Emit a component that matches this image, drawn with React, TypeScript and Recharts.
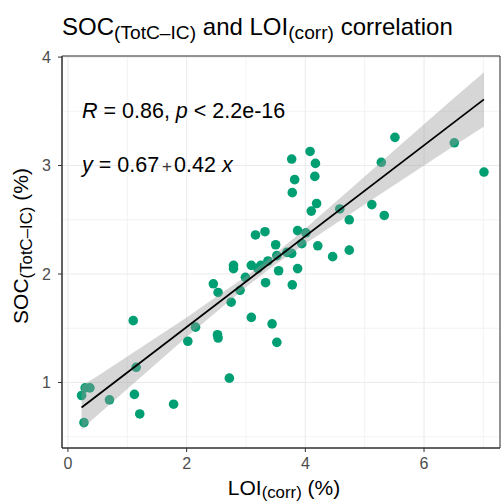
import { ComposedChart, Scatter, Area, Line, XAxis, YAxis, CartesianGrid, ReferenceLine, ReferenceArea } from 'recharts';

// LOI(corr) (%) vs SOC(TotC-IC) (%)
const loi = [
  0.23, 0.29, 0.37, 0.27, 0.70, 1.10, 1.15, 1.12, 1.21, 1.78,
  2.02, 2.15, 2.52, 2.53, 2.72, 2.45, 2.53, 2.75, 2.79, 2.79,
  2.90, 2.99, 3.09, 3.09, 3.20, 3.25, 3.33, 3.37, 3.16, 3.32,
  3.44, 3.52, 3.55, 3.52, 3.50, 3.69, 3.77, 3.78, 3.87, 3.87,
  4.01, 3.94, 4.21, 4.46, 4.74, 4.74, 4.58, 4.10, 4.19, 3.78,
  3.82, 3.77, 4.08, 4.17, 4.16, 5.12, 5.33, 5.28, 5.51, 6.51, 7.01,
];
const soc = [
  0.88, 0.95, 0.95, 0.63, 0.84, 1.57, 1.14, 0.89, 0.71, 0.80,
  1.38, 1.51, 1.44, 1.41, 1.04, 1.91, 1.83, 1.74, 2.08, 2.05,
  1.85, 1.97, 2.08, 1.60, 2.05, 2.08, 1.92, 2.12, 2.36, 2.39,
  1.54, 1.37, 2.03, 2.17, 2.27, 2.20, 2.19, 1.90, 2.05, 2.40,
  2.38, 2.28, 2.26, 2.16, 2.22, 2.50, 2.60, 2.58, 2.65, 2.75,
  2.87, 3.06, 3.13, 3.02, 2.90, 2.64, 2.54, 3.03, 3.26, 3.21, 2.94,
];

// confidence band edges of the fit
const bandX = [0.23, 0.5, 1, 1.5, 2, 2.5, 3, 3.5, 4, 4.5, 5, 5.5, 6, 6.5, 7.01];
const bandLow = [0.57, 0.70, 0.94, 1.18, 1.42, 1.65, 1.88, 2.09, 2.28, 2.46, 2.64, 2.82, 3.00, 3.18, 3.36];
const bandHigh = [0.97, 1.06, 1.24, 1.42, 1.60, 1.79, 1.98, 2.19, 2.42, 2.66, 2.90, 3.14, 3.38, 3.62, 3.86];

// fitted line y = 0.67 + 0.42 x
const fitX = [0.23, 7.01];
const fitY = [0.77, 3.61];

const xTicks = [0, 2, 4, 6];
const yTicks = [1, 2, 3, 4];
const xMinor = [1, 3, 5, 7];
const yMinor = [0.5, 1.5, 2.5, 3.5];

const points = loi.map((x, i) => ({ x, y: soc[i] }));
const band = bandX.map((x, i) => ({ x, band: [bandLow[i], bandHigh[i]] }));
const fit = fitX.map((x, i) => ({ x, fit: fitY[i] }));

const FONT = '"Liberation Sans", Arial, sans-serif';
const X_DOMAIN: [number, number] = [-0.1, 7.28];
const Y_DOMAIN: [number, number] = [0.396, 4.01];
const MARGIN = { top: 56, right: 2, bottom: 0, left: 0 };
const layer: React.CSSProperties = { position: 'absolute', left: 0, top: 0 };

const Dot = (props: any) => <circle cx={props.cx} cy={props.cy} r={4.8} fill="#009E73" />;

export default function App() {
  return (
    <div style={{ position: 'absolute', left: 0, top: 0, width: 502, height: 502, background: '#fff', fontFamily: FONT }}>
      {/* bottom layer: grid, axes, points */}
      <div style={layer}>
        <ComposedChart width={502} height={502} margin={MARGIN}>
          <CartesianGrid stroke="#EBEBEB" strokeWidth={1.1} />
          {xMinor.map((v) => (
            <ReferenceLine key={'vx' + v} x={v} stroke="#EBEBEB" strokeWidth={0.6} />
          ))}
          {yMinor.map((v) => (
            <ReferenceLine key={'hy' + v} y={v} stroke="#EBEBEB" strokeWidth={0.6} />
          ))}
          <XAxis
            type="number"
            dataKey="x"
            domain={X_DOMAIN}
            ticks={xTicks}
            allowDataOverflow
            height={54}
            tickSize={4}
            tickMargin={6}
            axisLine={{ stroke: '#333333' }}
            tickLine={{ stroke: '#333333' }}
            tick={{ fill: '#4D4D4D', fontSize: 16, fontFamily: FONT }}
          />
          <YAxis
            type="number"
            domain={Y_DOMAIN}
            ticks={yTicks}
            allowDataOverflow
            width={62}
            tickSize={4}
            tickMargin={7}
            axisLine={{ stroke: '#333333' }}
            tickLine={{ stroke: '#333333' }}
            tick={{ fill: '#4D4D4D', fontSize: 16, fontFamily: FONT }}
          />
          <Scatter data={points} dataKey="y" shape={Dot} isAnimationActive={false} />
        </ComposedChart>
      </div>
      {/* top layer: confidence band and fit line drawn over the points */}
      <div style={{ ...layer, pointerEvents: 'none' }}>
        <ComposedChart width={502} height={502} margin={MARGIN}>
          <XAxis type="number" dataKey="x" domain={X_DOMAIN} ticks={xTicks} allowDataOverflow height={54} tick={false} tickLine={false} axisLine={false} />
          <YAxis type="number" domain={Y_DOMAIN} ticks={yTicks} allowDataOverflow width={62} tick={false} tickLine={false} axisLine={false} />
          <Area data={band} dataKey="band" type="linear" stroke="none" fill="#999999" fillOpacity={0.4} isAnimationActive={false} />
          <Line data={fit} dataKey="fit" type="linear" stroke="#000000" strokeWidth={1.8} dot={false} isAnimationActive={false} />
          <ReferenceArea x1={X_DOMAIN[0]} x2={X_DOMAIN[1]} y1={Y_DOMAIN[0]} y2={Y_DOMAIN[1]} fill="none" stroke="#333333" strokeWidth={1} />
        </ComposedChart>
      </div>
      <svg width={502} height={502} style={{ ...layer, pointerEvents: 'none' }} fontFamily={FONT}>
        <text x={62} y={34.5} fontSize={24} fill="#000">
          SOC<tspan fontSize={19.2} dy={4}>(TotC–IC)</tspan>
          <tspan dy={-4}> and LOI</tspan>
          <tspan fontSize={19.2} dy={4}>(corr)</tspan>
          <tspan dy={-4}> correlation</tspan>
        </text>
        <text x={284} y={494.5} fontSize={21} fill="#000" textAnchor="middle">
          LOI<tspan fontSize={16.8} dy={3}>(corr)</tspan>
          <tspan dy={-3}> (%)</tspan>
        </text>
        <text transform="translate(28,246) rotate(-90)" fontSize={21} fill="#000" textAnchor="middle">
          SOC<tspan fontSize={16.8} dy={3.5}>(TotC–IC)</tspan>
          <tspan dy={-3.5}> (%)</tspan>
        </text>
        <text x={82} y={118.3} fontSize={21.5} fill="#000">
          <tspan fontStyle="italic">R</tspan> = 0.86, <tspan fontStyle="italic">p</tspan> &lt; 2.2e-16
        </text>
        <text x={82} y={171.7} fontSize={21.5} fill="#000">
          <tspan fontStyle="italic">y</tspan> = 0.67<tspan fontSize={17} fill="#333" dx={3}>+</tspan>
          <tspan dx={2}>0.42 </tspan>
          <tspan fontStyle="italic">x</tspan>
        </text>
      </svg>
    </div>
  );
}
